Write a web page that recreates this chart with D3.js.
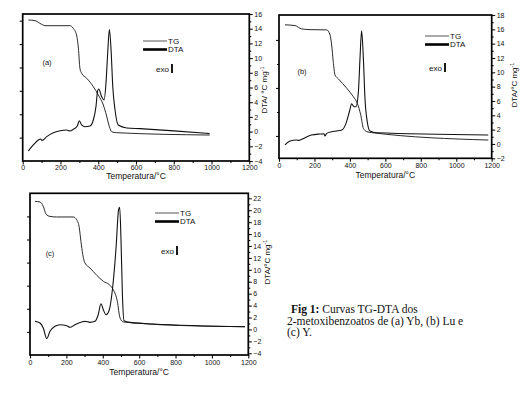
<!DOCTYPE html>
<html>
<head>
<meta charset="utf-8">
<script src="https://cdn.jsdelivr.net/npm/d3@7"></script>
<style>
  body { margin: 0; background: #fff; }
  svg { display: block; }
  text { font-family: "Liberation Sans", Arial, sans-serif; fill: #111; }
  .cap { font-family: "Liberation Serif", "Times New Roman", serif; font-size: 11.5px; }
</style>
</head>
<body>
<svg id="fig" width="524" height="395"></svg>
<script>
// temperature axis, shared by the three panels
const tempTicks = [0, 200, 400, 600, 800, 1000, 1200];

// (a) Yb
const tgTempA = [30, 65, 100, 118, 250, 268, 285, 295, 303, 312, 339, 374, 400, 427, 443, 459, 471, 497, 990];
const tgA = [12.06, 12.0, 11.69, 11.57, 11.57, 11.35, 10.78, 9.64, 7.93, 7.5, 7.07, 6.36, 5.65, 4.79, 3.93, 2.93, 2.5, 2.42, 2.22];
const dtaTempA = [30, 56, 83, 95, 102, 127, 162, 198, 233, 250, 268, 289, 300, 312, 330, 356, 374, 388, 397, 403, 418, 431, 441, 450, 459, 468, 477, 489, 506, 551, 621, 800, 990];
const dtaA = [-2.64, -1.82, -1.14, -1.0, -1.2, -0.69, -0.15, 0.12, 0.22, 0.08, 0.31, 0.76, 1.48, 0.9, 0.67, 0.76, 1.58, 3.4, 5.57, 5.8, 4.75, 4.3, 6.57, 10.65, 13.9, 11.1, 6.1, 2.94, 0.9, 0.5, 0.4, 0.1, -0.27];
const dtaTicksA = [-4, -2, 0, 2, 4, 6, 8, 10, 12, 14, 16];

// (b) Lu
const tgTempB = [34, 90, 128, 175, 269, 288, 297, 306, 316, 335, 382, 419, 442, 461, 476, 495, 523, 1181];
const tgB = [6.63, 6.6, 6.46, 6.43, 6.42, 6.21, 5.79, 5.1, 4.54, 4.38, 3.99, 3.64, 3.36, 2.88, 2.32, 2.18, 2.14, 1.83];
const dtaTempB = [34, 62, 100, 110, 147, 184, 231, 254, 259, 269, 297, 325, 354, 378, 397, 410, 423, 434, 448, 457, 466, 476, 485, 498, 513, 551, 1181];
const dtaB = [-0.14, 0.41, 0.55, 0.5, 0.88, 1.25, 1.39, 1.43, 1.11, 1.48, 1.71, 1.81, 1.95, 2.88, 4.5, 5.6, 5.2, 5.2, 7.3, 11.95, 15.8, 11.95, 6.37, 3.1, 1.81, 1.57, 1.25];
const dtaTicksB = [-2, 0, 2, 4, 6, 8, 10, 12, 14, 16, 18];

// (c) Y
const tgTempC = [27, 55, 73, 88, 110, 147, 238, 257, 271, 280, 290, 302, 330, 367, 403, 436, 458, 480, 495, 513, 586, 715, 1182];
const tgC = [13.3, 13.25, 12.87, 12.2, 12.0, 11.95, 11.95, 11.71, 11.0, 9.84, 8.69, 7.97, 7.53, 6.9, 6.38, 6.09, 5.65, 4.65, 3.2, 2.86, 2.77, 2.62, 2.45];
const dtaTempC = [27, 55, 73, 92, 110, 137, 165, 202, 220, 247, 284, 302, 330, 357, 375, 390, 403, 418, 436, 454, 473, 487, 493, 500, 508, 517, 550, 678, 1182];
const dtaC = [1.36, 1.08, 0.24, -1.55, -0.32, 0.52, 0.79, 0.62, 0.36, 0.79, 1.24, 1.36, 1.19, 1.36, 2.47, 4.3, 3.31, 2.47, 3.3, 6.95, 13.66, 20.1, 20.5, 15.3, 5.83, 1.47, 1.19, 0.91, 0.46];
const dtaTicksC = [-4, -2, 0, 2, 4, 6, 8, 10, 12, 14, 16, 18, 20, 22];

const captionLines = ["Curvas TG-DTA dos", "2-metoxibenzoatos de (a) Yb, (b) Lu e", "(c) Y."];

const svg = d3.select('#fig');

const panels = [
  { tag: '(a)', l: 22.7, t: 14, r: 249.3, b: 161,
    tgDom: [0, 12.57], tgTicks: [2, 4, 6, 8, 10, 12], tgMajorEvery: 1,
    dtaDom: [-4, 16], dtaTicks: dtaTicksA,
    tg: d3.zip(tgTempA, tgA), dta: d3.zip(dtaTempA, dtaA),
    tagPos: [47, 62], leg: [143, 41], exo: [169, 72], tickY: 167.5, titleY: 176.5, yLab: [264, 90], yLabText: 'DTA/ \u00B0C mg' },
  { tag: '(b)', l: 279, t: 15, r: 491.7, b: 158.3,
    tgDom: [1.07, 7.04], tgTicks: [2, 3, 4, 5, 6], tgMajorEvery: 2,
    dtaDom: [-2, 18], dtaTicks: dtaTicksB,
    tg: d3.zip(tgTempB, tgB), dta: d3.zip(dtaTempB, dtaB),
    tagPos: [302, 71], leg: [425, 36], exo: [442, 71], tickY: 166, titleY: 175, yLab: [514, 85], yLabText: 'DTA/\u00B0C mg' },
  { tag: '(c)', l: 30, t: 193.3, r: 248.3, b: 355,
    tgDom: [0, 14], tgTicks: [2, 4, 6, 8, 10, 12], tgMajorEvery: 1,
    dtaDom: [-4.29, 22.84], dtaTicks: dtaTicksC,
    tg: d3.zip(tgTempC, tgC), dta: d3.zip(dtaTempC, dtaC),
    tagPos: [50, 253], leg: [155, 213], exo: [174, 254], tickY: 362.5, titleY: 372.5, yLab: [267, 262], yLabText: 'DTA/\u00B0C mg' }
];

function drawPanel(p) {
  const g = svg.append('g');
  const x = d3.scaleLinear().domain([0, 1200]).range([p.l, p.r]);
  const yR = d3.scaleLinear().domain(p.dtaDom).range([p.b, p.t]);
  const yL = d3.scaleLinear().domain(p.tgDom).range([p.b, p.t]);

  const style = sel => {
    sel.select('.domain').remove();
    sel.attr('font-size', 7).attr('font-family', '"Liberation Sans", Arial, sans-serif');
    sel.selectAll('line').attr('stroke', '#111').attr('stroke-width', 1.1);
    sel.selectAll('text').attr('fill', '#222');
  };

  // bottom axis, major + minor
  g.append('g').attr('transform', `translate(0,${p.b})`)
    .call(d3.axisBottom(x).tickValues(tempTicks).tickSize(3.5).tickPadding(2).tickFormat(d3.format('d')))
    .call(style)
    .selectAll('text').attr('y', p.tickY - p.b).attr('dy', '0.35em');
  g.append('g').attr('transform', `translate(0,${p.b})`)
    .call(d3.axisBottom(x).tickValues(d3.range(100, 1200, 200)).tickSize(2).tickFormat(''))
    .call(style);

  // right axis (DTA)
  g.append('g').attr('transform', `translate(${p.r},0)`)
    .call(d3.axisRight(yR).tickValues(p.dtaTicks).tickSize(3.5).tickPadding(1.5).tickFormat(d3.format('d')))
    .call(style);
  const minorR = d3.range(Math.ceil(p.dtaDom[0]), p.dtaDom[1], 1).filter(v => !p.dtaTicks.includes(v));
  g.append('g').attr('transform', `translate(${p.r},0)`)
    .call(d3.axisRight(yR).tickValues(minorR).tickSize(2).tickFormat(''))
    .call(style);

  // left axis (TG), unlabelled
  g.append('g').attr('transform', `translate(${p.l},0)`)
    .call(d3.axisLeft(yL).tickValues(p.tgTicks).tickFormat('')
      .tickSizeInner(3).tickSizeOuter(0))
    .call(style)
    .selectAll('.tick line')
    .attr('x2', d => (p.tgMajorEvery === 1 || d % 2 === 0) ? -3 : -2);

  // frame
  g.append('rect')
    .attr('x', p.l).attr('y', p.t)
    .attr('width', p.r - p.l).attr('height', p.b - p.t)
    .attr('fill', 'none').attr('stroke', '#000').attr('stroke-width', 1.7);

  // curves
  const clipId = 'clip' + p.tag.replace(/\W/g, '');
  g.append('clipPath').attr('id', clipId).append('rect')
    .attr('x', p.l).attr('y', p.t).attr('width', p.r - p.l).attr('height', p.b - p.t);

  const lineR = d3.line().x(d => x(d[0])).y(d => yR(d[1])).curve(d3.curveMonotoneX);
  const lineL = d3.line().x(d => x(d[0])).y(d => yL(d[1])).curve(d3.curveMonotoneX);

  g.append('path').datum(p.tg).attr('clip-path', `url(#${clipId})`)
    .attr('d', lineL).attr('fill', 'none').attr('stroke', '#2a2a2a').attr('stroke-width', 1);
  g.append('path').datum(p.dta).attr('clip-path', `url(#${clipId})`)
    .attr('d', lineR).attr('fill', 'none').attr('stroke', '#111').attr('stroke-width', 1.1);

  // legend
  const [lx, ly] = p.leg;
  g.append('line').attr('x1', lx).attr('x2', lx + 24).attr('y1', ly).attr('y2', ly)
    .attr('stroke', '#555').attr('stroke-width', 1);
  g.append('line').attr('x1', lx).attr('x2', lx + 24).attr('y1', ly + 8.5).attr('y2', ly + 8.5)
    .attr('stroke', '#000').attr('stroke-width', 2.6);
  g.append('text').attr('x', lx + 25).attr('y', ly).attr('dy', '0.35em')
    .attr('font-size', 8).text('TG');
  g.append('text').attr('x', lx + 25).attr('y', ly + 8.5).attr('dy', '0.35em')
    .attr('font-size', 8).text('DTA');

  // exo marker
  const [ex, ey] = p.exo;
  g.append('text').attr('x', ex).attr('y', ey).attr('text-anchor', 'end')
    .attr('font-size', 8).text('exo');
  g.append('line').attr('x1', ex + 3).attr('x2', ex + 3).attr('y1', ey - 8).attr('y2', ey + 1)
    .attr('stroke', '#000').attr('stroke-width', 1.8);

  // panel tag
  g.append('text').attr('x', p.tagPos[0]).attr('y', p.tagPos[1]).attr('dy', '0.35em')
    .attr('text-anchor', 'middle').attr('font-size', 7.5).text(p.tag);

  // axis titles
  g.append('text').attr('x', (p.l + p.r) / 2).attr('y', p.titleY).attr('dy', '0.35em')
    .attr('text-anchor', 'middle').attr('font-size', 8.5).text('Temperatura/\u00B0C');

  const yl = g.append('text')
    .attr('transform', `translate(${p.yLab[0]},${p.yLab[1]}) rotate(-90)`)
    .attr('text-anchor', 'middle').attr('dy', '0.35em').attr('font-size', 8);
  yl.append('tspan').text(p.yLabText);
  yl.append('tspan').attr('dy', '-3').attr('font-size', 5.5).text('-1');
}

panels.forEach(drawPanel);

// caption
const cap = svg.append('g').attr('class', 'cap');
const capY = d3.scaleLinear().domain([0, 2]).range([313, 336]);
const first = cap.append('text').attr('class', 'cap').attr('x', 291).attr('y', capY(0));
first.append('tspan').attr('font-weight', 'bold').text('Fig 1:');
first.append('tspan').text(' ' + captionLines[0]);
cap.selectAll('text.rest').data(captionLines.slice(1)).enter()
  .append('text').attr('class', 'cap rest')
  .attr('x', 287).attr('y', (d, i) => capY(i + 1))
  .text(d => d);
</script>
</body>
</html>
